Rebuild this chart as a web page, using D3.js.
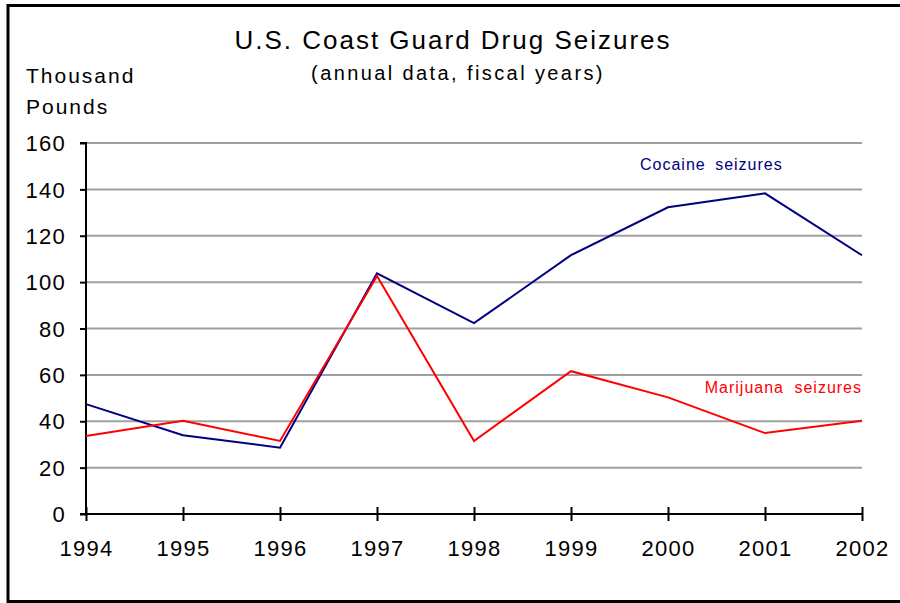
<!DOCTYPE html>
<html>
<head>
<meta charset="utf-8">
<script src="https://cdn.jsdelivr.net/npm/d3@7"></script>
<style>
  body { margin: 0; background: #fff; }
  text { font-family: "Liberation Sans", Arial, sans-serif; }
</style>
</head>
<body>
<div class="chart"></div>
<script>
var years = [1994, 1995, 1996, 1997, 1998, 1999, 2000, 2001, 2002];
var cocaine = [47.4, 34, 28.6, 103.8, 82.3, 111.6, 132.3, 138.3, 111.6];
var marijuana = [33.6, 40.2, 31.5, 102.6, 31.5, 61.6, 50.3, 34.9, 40.2];
var yTicks = [0, 20, 40, 60, 80, 100, 120, 140, 160];

var width = 900, height = 603;
var plot = { left: 86, right: 862, top: 143, bottom: 514 };

var svg = d3.select('.chart').append('svg')
	.attr('width', width)
	.attr('height', height);

// frame (right side is cut off in the original)
svg.append('path')
	.attr('d', 'M900,5.5 H8 V601.5 H900')
	.attr('fill', 'none')
	.attr('stroke', '#000')
	.attr('stroke-width', 3);

var x = d3.scalePoint().domain(years).range([plot.left, plot.right]);
var y = d3.scaleLinear().domain([0, 160]).range([plot.bottom, plot.top]);

// gridlines
svg.append('g').selectAll('line')
	.data(yTicks.filter(function(d) { return d > 0; }))
	.enter().append('line')
	.attr('x1', plot.left).attr('x2', plot.right)
	.attr('y1', y).attr('y2', y)
	.attr('stroke', '#a0a0a0')
	.attr('stroke-width', 2);

// y axis
var yAxis = svg.append('g')
	.attr('transform', 'translate(' + plot.left + ',0)')
	.call(d3.axisLeft(y).tickValues(yTicks).tickSize(6).tickPadding(14));
yAxis.select('.domain').attr('stroke-width', 2).attr('d', 'M-6,' + plot.top + 'H0V' + plot.bottom);
yAxis.selectAll('.tick line').attr('stroke-width', 2);
yAxis.selectAll('.tick text')
	.attr('font-size', 22).attr('letter-spacing', 1.3)
	.attr('fill', '#000').attr('dy', '0.35em');

// x axis
var xAxis = svg.append('g')
	.attr('transform', 'translate(0,' + plot.bottom + ')')
	.call(d3.axisBottom(x).tickSize(7).tickPadding(19).tickSizeOuter(0));
xAxis.select('.domain').attr('stroke-width', 2).attr('d', 'M' + (plot.left - 6) + ',0H' + plot.right);
xAxis.selectAll('.tick line').attr('y1', -7).attr('stroke-width', 2);
xAxis.selectAll('.tick text')
	.attr('font-size', 22).attr('letter-spacing', 1.3)
	.attr('fill', '#000');

// series
var line = d3.line()
	.x(function(d, i) { return x(years[i]); })
	.y(function(d) { return y(d); });

svg.append('path')
	.datum(cocaine)
	.attr('d', line)
	.attr('fill', 'none')
	.attr('stroke', '#000080')
	.attr('stroke-width', 2);

svg.append('path')
	.datum(marijuana)
	.attr('d', line)
	.attr('fill', 'none')
	.attr('stroke', '#ff0000')
	.attr('stroke-width', 2);

// series labels
svg.append('text')
	.attr('x', 640).attr('y', 170)
	.attr('font-size', 16)
	.attr('letter-spacing', 1)
	.attr('word-spacing', 4)
	.attr('fill', '#000080')
	.text('Cocaine seizures');

svg.append('text')
	.attr('x', 862).attr('y', 393)
	.attr('text-anchor', 'end')
	.attr('font-size', 16)
	.attr('letter-spacing', 1)
	.attr('word-spacing', 5)
	.attr('fill', '#ff0000')
	.text('Marijuana seizures');

// titles
svg.append('text')
	.attr('x', 453).attr('y', 49)
	.attr('text-anchor', 'middle')
	.attr('font-size', 26)
	.attr('letter-spacing', 2)
	.text('U.S. Coast Guard Drug Seizures');

svg.append('text')
	.attr('x', 458).attr('y', 80)
	.attr('text-anchor', 'middle')
	.attr('font-size', 20)
	.attr('letter-spacing', 2.4)
	.text('(annual data, fiscal years)');

svg.append('text')
	.attr('x', 26).attr('y', 83)
	.attr('font-size', 21)
	.attr('letter-spacing', 2)
	.text('Thousand');

svg.append('text')
	.attr('x', 26).attr('y', 114)
	.attr('font-size', 21)
	.attr('letter-spacing', 2)
	.text('Pounds');
</script>
</body>
</html>
